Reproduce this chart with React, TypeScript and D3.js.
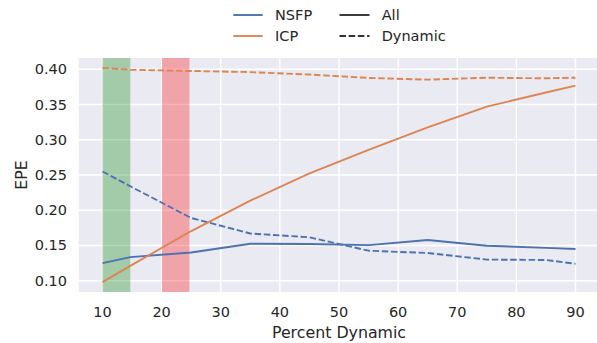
import React from "react";
import * as d3 from "d3";

// percent dynamic sample points
const xs = [10, 14.7, 25, 35, 45, 55, 65, 75, 85, 90];
const nsfpAll = [0.125, 0.1335, 0.14, 0.1525, 0.152, 0.1505, 0.1577, 0.1497, 0.1466, 0.145];
const nsfpDynamic = [0.255, 0.234, 0.189, 0.167, 0.1616, 0.1426, 0.1393, 0.13, 0.1294, 0.1241];
const icpAll = [0.098, 0.121, 0.1705, 0.2136, 0.2524, 0.2855, 0.3177, 0.347, 0.367, 0.3768];
const icpDynamic = [0.4018, 0.3994, 0.3976, 0.396, 0.3925, 0.3877, 0.3853, 0.388, 0.3872, 0.388];

const xTicks = [10, 20, 30, 40, 50, 60, 70, 80, 90];
const yTicks = [0.1, 0.15, 0.2, 0.25, 0.3, 0.35, 0.4];

const bandStarts = [10, 20.05];
const bandEnds = [14.7, 24.7];
const bandColors = ["#008000", "#ff0000"];

const methods = ["NSFP", "ICP"];
const methodColors = ["#4c72b0", "#dd8452"];
const styles = ["All", "Dynamic"];

const W = 597;
const H = 343;
const font = "DejaVu Sans";
const ink = "#262626";
const dash = "6.5 2.7";

const App = () => {
  const x = d3.scaleLinear().domain([6, 94]).range([78.85, 599.15]);
  const y = d3.scaleLinear().domain([0.084, 0.416]).range([292, 58]);

  const line = d3
    .line<number>()
    .x((_, i) => x(xs[i]))
    .y((d) => y(d));

  const series = [
    { vals: nsfpAll, color: methodColors[0], dash: null },
    { vals: nsfpDynamic, color: methodColors[0], dash: dash },
    { vals: icpAll, color: methodColors[1], dash: null },
    { vals: icpDynamic, color: methodColors[1], dash: dash },
  ];

  const [x0, x1] = x.range();
  const [yb, yt] = y.range();

  return (
    <svg
      width={W}
      height={H}
      style={{ position: "absolute", left: 0, top: 0, background: "#fff" }}
      fontFamily={font}
    >
      <rect x={x0} y={yt} width={x1 - x0} height={yb - yt} fill="#eaeaf2" />
      {/* grid */}
      {xTicks.map((t) => (
        <line key={"gx" + t} x1={x(t)} x2={x(t)} y1={yt} y2={yb} stroke="#fff" strokeWidth={1.4} />
      ))}
      {yTicks.map((t) => (
        <line key={"gy" + t} x1={x0} x2={x1} y1={y(t)} y2={y(t)} stroke="#fff" strokeWidth={1.4} />
      ))}
      {/* shaded spans */}
      {bandStarts.map((s, i) => (
        <rect
          key={"b" + i}
          x={x(s)}
          y={yt}
          width={x(bandEnds[i]) - x(s)}
          height={yb - yt}
          fill={bandColors[i]}
          fillOpacity={0.3}
        />
      ))}
      {/* lines */}
      {series.map((s, i) => (
        <path
          key={"l" + i}
          d={line(s.vals) || ""}
          fill="none"
          stroke={s.color}
          strokeWidth={1.9}
          strokeDasharray={s.dash || undefined}
          strokeLinejoin="round"
        />
      ))}
      {/* tick labels */}
      {xTicks.map((t) => (
        <text key={"tx" + t} x={x(t)} y={317} textAnchor="middle" fontSize={14.5} fill={ink}>
          {t}
        </text>
      ))}
      {yTicks.map((t) => (
        <text
          key={"ty" + t}
          x={67}
          y={y(t)}
          textAnchor="end"
          dominantBaseline="central"
          fontSize={14.5}
          fill={ink}
        >
          {d3.format(".2f")(t)}
        </text>
      ))}
      <text x={(x(10) + x(90)) / 2} y={338} textAnchor="middle" fontSize={15.8} fill={ink}>
        Percent Dynamic
      </text>
      <text
        transform={`translate(21,${(yt + yb) / 2}) rotate(-90)`}
        textAnchor="middle"
        dominantBaseline="central"
        fontSize={15.8}
        fill={ink}
      >
        EPE
      </text>
      {/* legend */}
      {methods.map((m, i) => (
        <g key={"lm" + m} transform={`translate(0,${15 + i * 21})`}>
          <line x1={233.3} x2={262.7} y1={0} y2={0} stroke={methodColors[i]} strokeWidth={1.9} />
          <text x={275} y={0} dominantBaseline="central" fontSize={14.5} fill={ink}>
            {m}
          </text>
        </g>
      ))}
      {styles.map((s, i) => (
        <g key={"ls" + s} transform={`translate(0,${15 + i * 21})`}>
          <line
            x1={339.5}
            x2={369.5}
            y1={0}
            y2={0}
            stroke="#333"
            strokeWidth={1.9}
            strokeDasharray={i === 1 ? dash : undefined}
          />
          <text x={381.7} y={0} dominantBaseline="central" fontSize={14.5} fill={ink}>
            {s}
          </text>
        </g>
      ))}
    </svg>
  );
};

export default App;
